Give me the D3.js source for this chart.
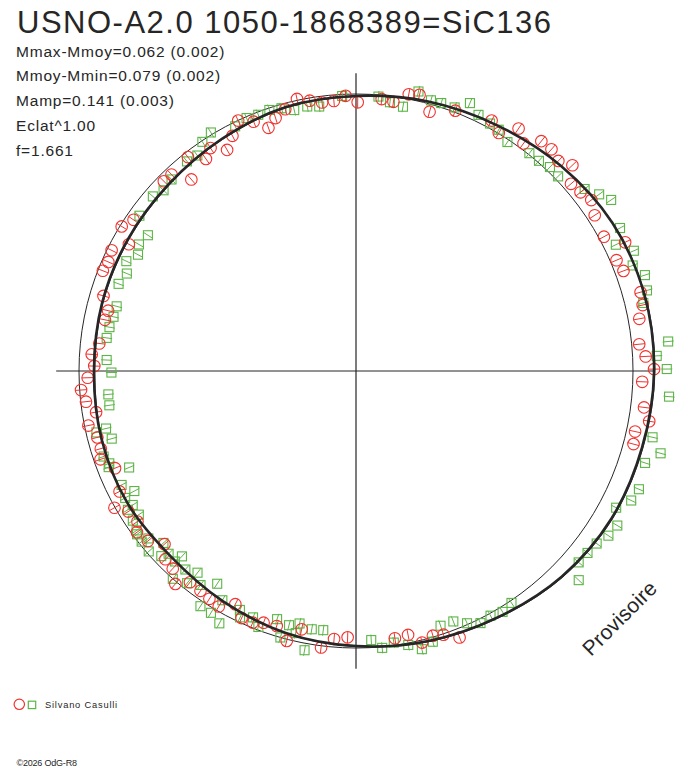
<!DOCTYPE html>
<html>
<head>
<meta charset="utf-8">
<script src="https://cdn.jsdelivr.net/npm/d3@7"></script>
<style>
  html, body { margin: 0; padding: 0; background: #fff; }
  svg { display: block; font-family: "Liberation Sans", Arial, sans-serif; }
</style>
</head>
<body>
<svg id="chart" width="688" height="768"></svg>
<script>
// ---- data ----
const titleText = "USNO-A2.0 1050-1868389=SiC136";
const statLines = ["Mmax-Mmoy=0.062 (0.002)", "Mmoy-Mmin=0.079 (0.002)", "Mamp=0.141 (0.003)", "Eclat^1.00", "f=1.661"];
const legendLabel = "Silvano Casulli";
const creditText = "\u00A92026 OdG-R8";
const watermark = "Provisoire";

// fitted light curve: phase, relative flux
const fitPhase = [0, 0.0417, 0.0833, 0.125, 0.1667, 0.2083, 0.25, 0.2917, 0.3333, 0.375, 0.4167, 0.4583,
                  0.5, 0.5417, 0.5833, 0.625, 0.6667, 0.7083, 0.75, 0.7917, 0.8333, 0.875, 0.9167, 0.9583];
const fitFlux  = [0.993, 1.007, 1.023, 1.047, 1.069, 1.077, 1.076, 1.069, 1.065, 1.050, 1.026, 1.009,
                  0.993, 0.979, 0.960, 0.946, 0.953, 0.951, 0.946, 0.949, 0.951, 0.955, 0.968, 0.986];

// observations [phase, relative flux]
const redObs = [
 [0.994,0.994],[0.001,0.970],[0.015,0.986],[0.022,0.981],[0.030,1.017],[0.036,1.023],[0.044,0.973],[0.058,1.006],
 [0.079,1.028],[0.086,1.002],[0.094,1.054],[0.101,1.020],[0.108,1.066],[0.115,1.067],[0.122,1.053],[0.129,1.078],
 [0.136,1.029],[0.143,1.036],[0.150,1.050],[0.158,1.029],[0.171,1.018],[0.179,1.077],[0.186,1.022],[0.193,1.031],
 [0.207,1.066],[0.214,1.062],[0.221,1.040],[0.235,1.027],[0.242,1.047],[0.249,1.076],[0.256,1.034],[0.270,1.048],
 [0.277,1.074],[0.284,1.031],[0.291,1.036],[0.441,1.032],[0.449,1.003],[0.455,0.995],[0.462,1.009],[0.469,0.971],
 [0.477,0.975],[0.505,0.962],[0.513,0.971],[0.520,1.006],[0.533,0.953],[0.540,1.006],[0.548,0.964],[0.556,0.968],
 [0.562,0.982],[0.569,0.983],[0.576,0.948],[0.584,0.984],[0.591,0.978],[0.598,0.972],[0.606,0.970],[0.612,1.008],
 [0.619,0.973],[0.626,0.967],[0.633,0.932],[0.641,0.970],[0.649,0.982],[0.654,0.958],[0.662,0.966],[0.668,1.002],
 [0.675,0.958],[0.689,0.938],[0.697,0.976],[0.703,0.963],[0.710,0.964],[0.718,0.986],[0.725,0.950],[0.732,0.981],
 [0.739,0.995],[0.746,0.969],[0.753,0.945],[0.760,0.956],[0.767,0.932],[0.782,0.925],[0.788,0.921],[0.796,0.951],
 [0.810,0.983],[0.816,0.977],[0.823,0.984],[0.831,0.939],[0.838,0.994],[0.845,0.971],[0.874,0.975],[0.880,0.973],
 [0.887,0.912],[0.894,0.982],[0.902,0.938],[0.908,0.961],[0.916,0.924],[0.923,0.959],[0.930,0.999],[0.938,0.973],
 [0.945,0.933],[0.951,0.958],[0.958,0.979],[0.966,1.005],[0.973,0.990],[0.980,0.977],[0.987,0.978]
];
const greenObs = [
 [0.992,0.994],[0.013,0.994],[0.020,0.978],[0.028,0.969],[0.035,1.034],[0.043,1.014],[0.049,1.015],[0.057,1.016],
 [0.064,1.051],[0.071,1.025],[0.079,1.016],[0.085,1.012],[0.093,0.991],[0.107,1.005],[0.114,1.006],[0.121,1.016],
 [0.128,1.013],[0.143,1.055],[0.150,1.085],[0.156,1.109],[0.171,1.084],[0.178,1.043],[0.185,1.093],[0.192,1.069],
 [0.199,1.099],[0.207,1.090],[0.213,1.066],[0.235,1.132],[0.242,1.087],[0.249,1.122],[0.263,1.134],[0.285,1.097],
 [0.292,1.139],[0.299,1.095],[0.313,1.107],[0.320,1.098],[0.327,1.061],[0.335,1.096],[0.342,1.088],[0.349,1.069],
 [0.356,1.063],[0.363,1.060],[0.370,1.103],[0.406,1.008],[0.413,1.018],[0.420,1.008],[0.427,1.015],[0.434,0.995],
 [0.441,0.970],[0.449,0.969],[0.456,1.016],[0.463,1.032],[0.470,1.007],[0.478,0.990],[0.485,1.004],[0.491,0.973],
 [0.520,0.943],[0.527,0.946],[0.529,1.025],[0.535,0.934],[0.536,0.971],[0.541,0.949],[0.544,1.000],[0.549,0.940],
 [0.558,0.989],[0.563,0.964],[0.570,0.983],[0.572,0.959],[0.579,1.036],[0.584,0.958],[0.586,1.018],[0.592,0.917],
 [0.593,1.018],[0.600,0.955],[0.606,0.926],[0.607,0.979],[0.613,0.945],[0.615,1.000],[0.620,0.918],[0.621,0.949],
 [0.627,0.945],[0.629,0.970],[0.634,0.932],[0.636,0.992],[0.642,0.963],[0.643,0.989],[0.648,0.986],[0.650,0.979],
 [0.656,0.970],[0.657,0.940],[0.663,0.964],[0.664,0.940],[0.670,0.951],[0.671,0.910],[0.678,0.941],[0.686,0.890],
 [0.691,0.958],[0.693,0.951],[0.698,0.962],[0.707,0.915],[0.713,0.963],[0.714,0.926],[0.728,0.899],[0.735,0.898],
 [0.749,0.883],[0.757,0.901],[0.771,0.908],[0.778,0.904],[0.785,0.897],[0.792,0.895],[0.806,0.913],[0.814,0.899],
 [0.821,0.919],[0.828,0.892],[0.834,0.907],[0.842,0.897],[0.849,0.962],[0.863,0.967],[0.870,0.953],[0.878,0.960],
 [0.892,0.972],[0.899,0.966],[0.906,0.996],[0.913,1.008],[0.927,0.985],[0.935,0.995],[0.942,0.990],[0.949,0.993],
 [0.956,0.986],[0.963,0.968],[0.971,0.971],[0.978,0.964]
];
const redErr = 0.021;
const greenErr = 0.020;

// ---- drawing ----
const svg = d3.select("#chart");
const cx = 356, cy = 371;
const aScale = d3.scaleLinear().domain([0, 1]).range([0, 2 * Math.PI]);
const rScale = d3.scaleLinear().domain([0, 1]).range([0, 277]);
const ink = "#262626";
const redCol = "#f0332f";
const greenCol = "#5cb546";

const g = svg.append("g").attr("transform", `translate(${cx},${cy})`);

// reference circle (mean flux)
g.append("circle").attr("r", rScale(1)).attr("fill", "none").attr("stroke", ink).attr("stroke-width", 1);

// axes
const axR = rScale(d3.max(fitFlux)) + 0.5;
g.append("line").attr("x1", -axR - 1).attr("x2", axR).attr("y1", 0).attr("y2", 0).attr("stroke", ink).attr("stroke-width", 1.2);
g.append("line").attr("x1", 0).attr("x2", 0).attr("y1", -axR + 1).attr("y2", axR - 1).attr("stroke", ink).attr("stroke-width", 1.2);

function errLine(sel, err, col) {
  sel.append("line")
    .attr("x1", d => d3.pointRadial(aScale(d[0]), rScale(d[1] - err))[0])
    .attr("y1", d => d3.pointRadial(aScale(d[0]), rScale(d[1] - err))[1])
    .attr("x2", d => d3.pointRadial(aScale(d[0]), rScale(d[1] + err))[0])
    .attr("y2", d => d3.pointRadial(aScale(d[0]), rScale(d[1] + err))[1])
    .attr("stroke", col).attr("stroke-width", 1);
}

// green squares
const gs = g.append("g").selectAll("g").data(greenObs).join("g");
gs.append("rect")
  .attr("x", d => d3.pointRadial(aScale(d[0]), rScale(d[1]))[0] - 4.5)
  .attr("y", d => d3.pointRadial(aScale(d[0]), rScale(d[1]))[1] - 4.5)
  .attr("width", 9).attr("height", 9)
  .attr("fill", "none").attr("stroke", greenCol).attr("stroke-width", 1.1);
errLine(gs, greenErr, greenCol);

// red circles
const rs = g.append("g").selectAll("g").data(redObs).join("g");
rs.append("circle")
  .attr("cx", d => d3.pointRadial(aScale(d[0]), rScale(d[1]))[0])
  .attr("cy", d => d3.pointRadial(aScale(d[0]), rScale(d[1]))[1])
  .attr("r", 5.8)
  .attr("fill", "none").attr("stroke", redCol).attr("stroke-width", 1.1);
errLine(rs, redErr, redCol);

// fitted curve
const fitData = fitPhase.map((p, i) => [p, fitFlux[i]]);
const radial = d3.lineRadial()
  .angle(d => aScale(d[0]))
  .radius(d => rScale(d[1]))
  .curve(d3.curveCatmullRomClosed.alpha(0.5));
g.append("path").datum(fitData).attr("d", radial)
  .attr("fill", "none").attr("stroke", ink).attr("stroke-width", 2.6);
g.append("path").datum(fitData).attr("d", radial)
  .attr("transform", "translate(0.8,0.6)")
  .attr("fill", "none").attr("stroke", ink).attr("stroke-width", 1);

// ---- texts ----
svg.append("text").attr("x", 17).attr("y", 32.5)
  .attr("font-size", 31).attr("letter-spacing", 1.5).attr("fill", ink).text(titleText);

svg.append("g").selectAll("text").data(statLines).join("text")
  .attr("x", 16).attr("y", (d, i) => 56.5 + i * 24.9)
  .attr("font-size", 15.5).attr("letter-spacing", 0.8).attr("fill", ink).text(d => d);

svg.append("text")
  .attr("transform", "translate(591,657) rotate(-45)")
  .attr("font-size", 21).attr("letter-spacing", 0.2).attr("fill", ink).text(watermark);

// legend
svg.append("circle").attr("cx", 19.3).attr("cy", 704.3).attr("r", 5.2)
  .attr("fill", "none").attr("stroke", redCol).attr("stroke-width", 1.2);
svg.append("rect").attr("x", 28.3).attr("y", 701.2).attr("width", 7.4).attr("height", 7.4)
  .attr("fill", "none").attr("stroke", greenCol).attr("stroke-width", 1.2);
svg.append("text").attr("x", 45).attr("y", 708.3)
  .attr("font-size", 9.3).attr("letter-spacing", 0.8).attr("fill", ink).text(legendLabel);

svg.append("text").attr("x", 16.5).attr("y", 766)
  .attr("font-size", 9).attr("letter-spacing", -0.2).attr("fill", ink).text(creditText);
</script>
</body>
</html>
